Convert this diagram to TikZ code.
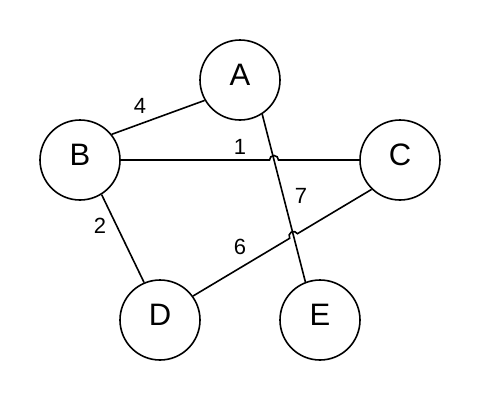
\documentclass[tikz,border=0pt]{standalone}
\usepackage{fontspec}
\setmainfont{Liberation Sans}
\usetikzlibrary{calc,intersections}
\begin{document}
\begin{tikzpicture}[x=1pt,y=1pt,
  vert/.style={circle, draw, line width=1.6pt, minimum size=80pt, inner sep=0pt,
    font=\fontsize{31}{37}\selectfont, text depth=11pt},
  wt/.style={font=\fontsize{22}{26}\selectfont, inner sep=0pt},
  edge/.style={line width=1.6pt}]
\fill[white] (0,0) rectangle (480,-400);
\useasboundingbox (0,0) rectangle (480,-400);
\node[vert] (A) at (240,-80) {A};
\node[vert] (B) at (80,-160) {B};
\node[vert] (C) at (400,-160) {C};
\node[vert] (D) at (160,-320) {D};
\node[vert] (E) at (320,-320) {E};
\draw[edge] (B.39.7) -- (A.210.6);
\draw[edge, name path=ae] (A.303.7) -- (E.111.4);
\draw[edge] (B.302.3) -- (D.113.6);
\path[name path=bc] (B.east) -- (C.west);
\path[name path=dc] (D.36.3) -- (C.226.7);
\path[name intersections={of=ae and bc, by=x1}];
\path[name intersections={of=ae and dc, by=x2}];
\draw[edge] (B.east) -- ($(x1)+(-4.5,0)$) arc[start angle=180, end angle=0, radius=4.5] -- (C.west);
\draw[edge] (D.36.3) -- ($(x2)!4.5pt!(D.36.3)$) arc[start angle=210.7, end angle=30.7, radius=4.5] -- (C.226.7);
\node[wt] (w4) at (140,-106) {4};
\node[wt] (w1) at (240,-147) {1};
\node[wt] (w7) at (301,-196) {7};
\node[wt] (w6) at (240,-247) {6};
\node[wt] (w2) at (100,-226) {2};
\end{tikzpicture}
\end{document}
